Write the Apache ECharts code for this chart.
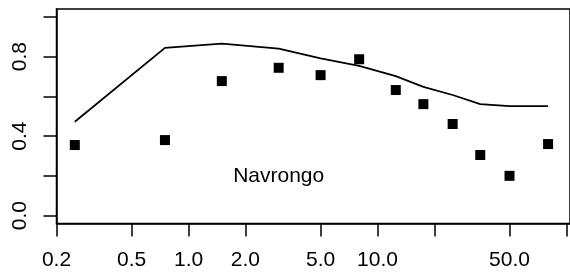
<!DOCTYPE html>
<html>
<head>
<meta charset="utf-8">
<script src="https://cdn.jsdelivr.net/npm/echarts@6/dist/echarts.min.js"></script>
<style>
html,body{margin:0;padding:0;background:#fff;}
#c{width:570px;height:279px;}
</style>
</head>
<body>
<div id="c"></div>
<script>
// Data
const ages = [0.25, 0.75, 1.5, 3, 5, 8, 12.5, 17.5, 25, 35, 50, 80];
const observed = [0.355, 0.380, 0.677, 0.744, 0.707, 0.787, 0.632, 0.561, 0.461, 0.305, 0.200, 0.360];
const fitted = [0.472, 0.844, 0.866, 0.841, 0.791, 0.754, 0.702, 0.648, 0.607, 0.561, 0.551, 0.551];
const xTicks = [0.2, 0.5, 1, 2, 5, 10, 20, 50, 100];
const xTickLabels = [0.2, 0.5, 1, 2, 5, 10, 50];
const yTicks = [0, 0.2, 0.4, 0.6, 0.8, 1.0];
const yTickLabels = [0, 0.4, 0.8];
const siteLabel = 'Navrongo';
const siteLabelPos = [3, 0.2];

const FONT = 'Liberation Sans, Arial, Helvetica, sans-serif';
const chart = echarts.init(document.getElementById('c'), null, {renderer: 'canvas'});
chart.setOption({
  animation: false,
  backgroundColor: '#ffffff',
  grid: {
    left: 56.5, top: 9, bottom: 55.5, right: -3,
    show: true, borderColor: '#000', borderWidth: 1.5, backgroundColor: 'transparent'
  },
  xAxis: {
    type: 'log',
    logBase: 10,
    min: 0.2,
    max: 104.5,
    axisLine: {show: true, onZero: false, lineStyle: {color: '#000', width: 1.5}},
    axisTick: {show: true, length: 13, inside: false, customValues: xTicks, lineStyle: {color: '#000', width: 1.5}},
    axisLabel: {
      show: true, customValues: xTickLabels, margin: 26,
      color: '#000', fontSize: 21, fontFamily: FONT,
      formatter: v => Number(v).toFixed(1)
    },
    splitLine: {show: false},
    minorTick: {show: false}
  },
  yAxis: {
    type: 'value',
    min: -0.04,
    max: 1.04,
    axisLine: {show: true, onZero: false, lineStyle: {color: '#000', width: 1.5}},
    axisTick: {show: true, length: 13, inside: false, customValues: yTicks, lineStyle: {color: '#000', width: 1.5}},
    axisLabel: {
      show: true, customValues: yTickLabels, margin: 26, rotate: 90,
      color: '#000', fontSize: 21, fontFamily: FONT,
      formatter: v => Number(v).toFixed(1)
    },
    splitLine: {show: false}
  },
  series: [
    {
      type: 'line',
      data: ages.map((a, i) => [a, fitted[i]]),
      showSymbol: false,
      symbol: 'none',
      lineStyle: {color: '#000', width: 1.8},
      markPoint: {
        symbol: 'rect', symbolSize: 0,
        label: {show: true, position: 'inside', formatter: siteLabel, color: '#000', fontSize: 21, fontFamily: FONT},
        data: [{coord: siteLabelPos, value: siteLabel}]
      }
    },
    {
      type: 'scatter',
      data: ages.map((a, i) => [a, observed[i]]),
      symbol: 'rect',
      symbolSize: 10,
      itemStyle: {color: '#000', opacity: 1}
    }
  ]
});
</script>
</body>
</html>
